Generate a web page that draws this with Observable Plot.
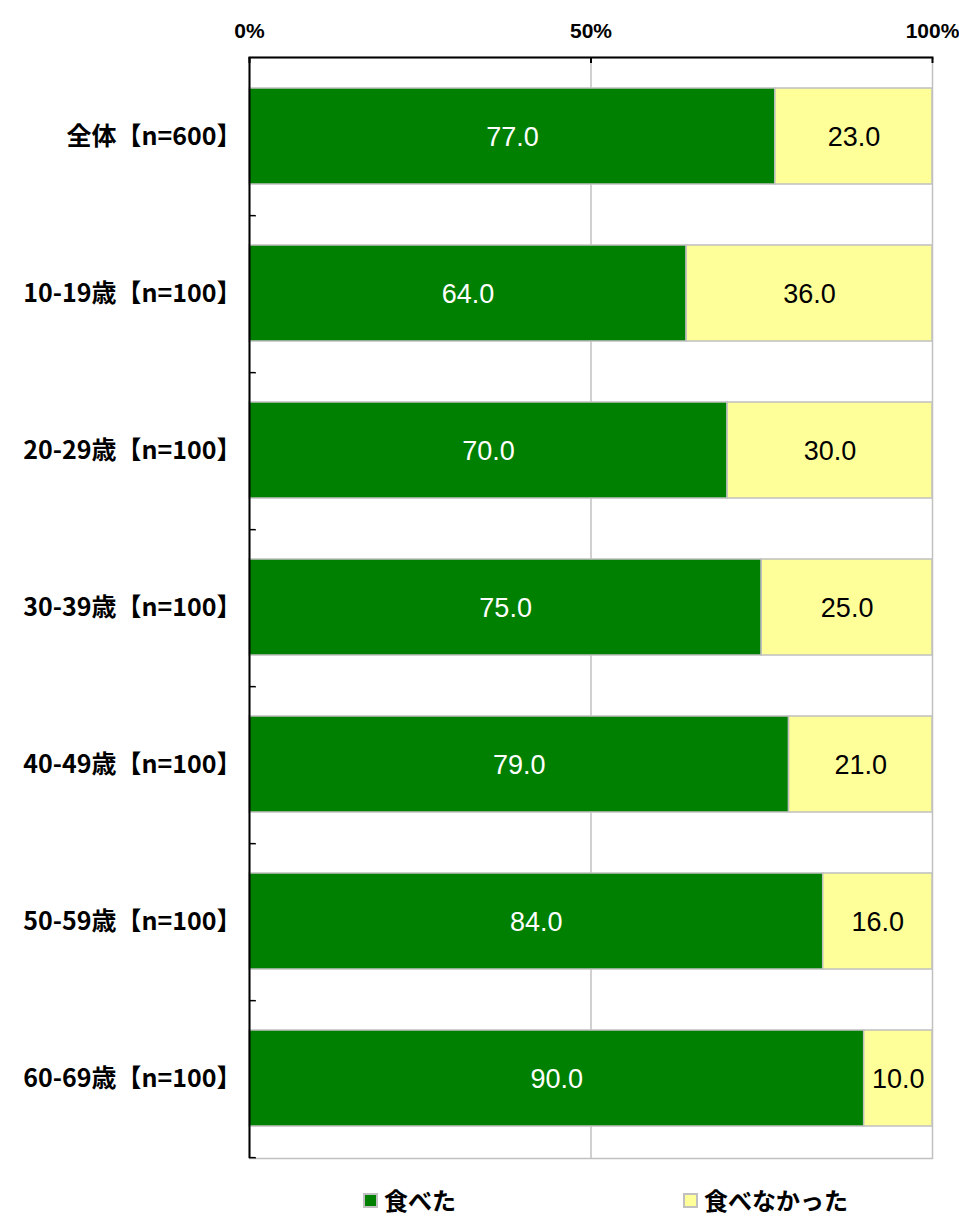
<!DOCTYPE html>
<html>
<head>
<meta charset="utf-8">
<script src="https://cdn.jsdelivr.net/npm/d3@7"></script>
<script src="https://cdn.jsdelivr.net/npm/@observablehq/plot@0.6"></script>
<style>
  body { margin: 0; background: #fff; }
  #legend { position: relative; width: 959px; height: 40px; font-family: "Noto Sans CJK JP", sans-serif; font-weight: bold; font-size: 24px; line-height: 30px; }
  .item { position: absolute; top: 5px; display: flex; align-items: center; gap: 6px; }
  .sw { width: 11px; height: 11px; border: 2px solid #c0c0c0; }
</style>
</head>
<body>
<div id="chart"></div>
<div id="legend"></div>
<script>
const categories = ["全体【n=600】", "10-19歳【n=100】", "20-29歳【n=100】", "30-39歳【n=100】", "40-49歳【n=100】", "50-59歳【n=100】", "60-69歳【n=100】"];
const ate = [77.0, 64.0, 70.0, 75.0, 79.0, 84.0, 90.0];
const notAte = [23.0, 36.0, 30.0, 25.0, 21.0, 16.0, 10.0];
const seriesNames = ["食べた", "食べなかった"];
const seriesColors = ["#008000", "#ffff99"];
const textColors = ["#ffffff", "#000000"];
const xTicks = [0, 50, 100];

const rows = [];
categories.forEach((c, i) => {
  rows.push({cat: c, series: seriesNames[0], value: ate[i]});
  rows.push({cat: c, series: seriesNames[1], value: notAte[i]});
});

const W = 959, H = 1180, mT = 57, mB = 22, mL = 249, mR = 27;
const step = (H - mT - mB) / categories.length;

const chart = Plot.plot({
  width: W, height: H,
  marginTop: mT, marginBottom: mB, marginLeft: mL, marginRight: mR,
  x: {domain: [0, 100], label: null},
  y: {domain: categories, padding: 0, label: null},
  color: {domain: seriesNames, range: seriesColors},
  style: {background: "#fff"},
  marks: [
    Plot.frame({stroke: "#c0c0c0", strokeWidth: 1.5}),
    Plot.ruleX([50], {stroke: "#c0c0c0", strokeWidth: 1.5}),
    Plot.barX(rows, Plot.stackX({x: "value", y: "cat", fill: "series", stroke: "#c0c0c0", strokeWidth: 1.5, insetTop: 30, insetBottom: 31, order: seriesNames})),
    Plot.text(rows, Plot.stackX({x: "value", y: "cat", z: "series", order: seriesNames, text: d => d.value.toFixed(1),
      fill: d => textColors[seriesNames.indexOf(d.series)], fontSize: 27, fontFamily: "Liberation Sans, Arial, sans-serif"})),
    Plot.ruleX([0], {stroke: "#000", strokeWidth: 2}),
    Plot.frame({anchor: "top", stroke: "#000", strokeWidth: 2}),
    Plot.ruleY(categories, {y: d => d, x1: 0, x2: 1, dy: step / 2, stroke: "#000", strokeWidth: 1.5}),
    Plot.axisX({anchor: "top", ticks: xTicks, tickSize: -5, tickPadding: 25, tickFormat: d => d + "%", label: null,
      fontSize: 21, fontWeight: "bold", fontFamily: "Liberation Sans Narrow, Liberation Sans, sans-serif", stroke: "#000", strokeWidth: 2}),
    Plot.axisY({tickSize: 0, tickPadding: 8, label: null, fontSize: 25, fontWeight: "bold", fontFamily: "Noto Sans CJK JP, sans-serif", fill: "#000"})
  ]
});
document.getElementById("chart").append(chart);

const legend = document.getElementById("legend");
const legendX = [363, 683];
seriesNames.forEach((s, i) => {
  const it = document.createElement("div");
  it.className = "item";
  it.style.left = legendX[i] + "px";
  const sw = document.createElement("div");
  sw.className = "sw";
  sw.style.background = seriesColors[i];
  const t = document.createElement("span");
  t.textContent = s;
  it.append(sw, t);
  legend.append(it);
});
</script>
</body>
</html>
